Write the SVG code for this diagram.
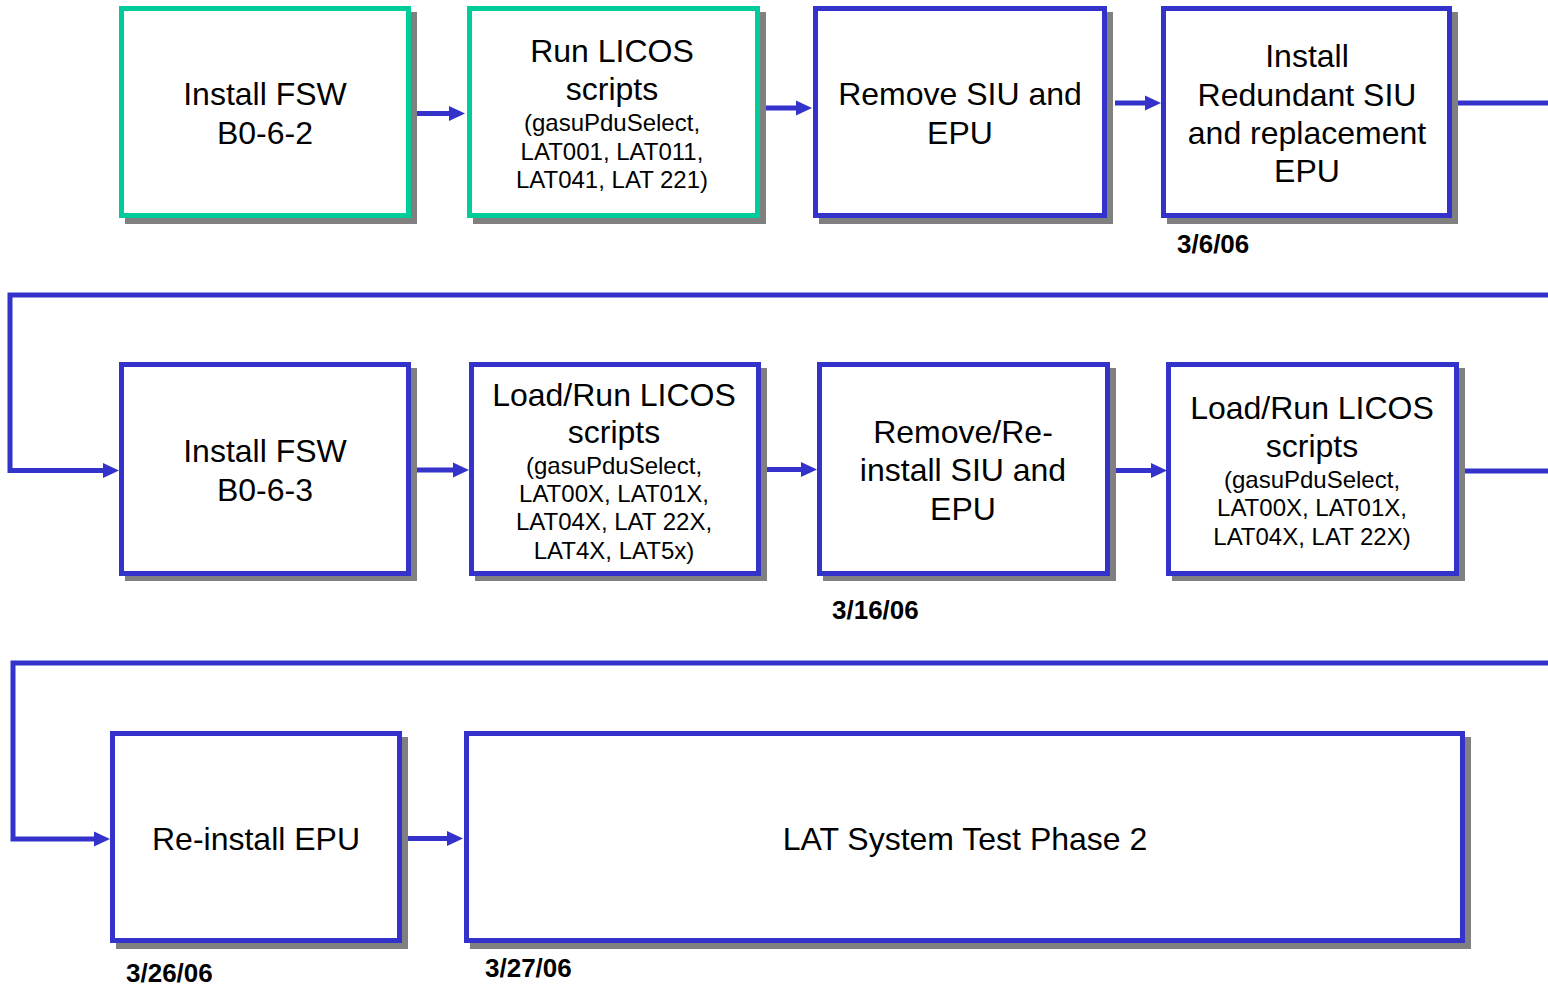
<svg xmlns="http://www.w3.org/2000/svg" width="1548" height="987" viewBox="0 0 1548 987">
<style>
.sh{fill:#808080;stroke:none}
.bx{fill:#ffffff;stroke-width:5}
.g{stroke:#00CC99}
.b{stroke:#3333CC}
.t{font-family:"Liberation Sans",Arial,sans-serif;font-size:32px;fill:#000;text-anchor:middle}
.s{font-family:"Liberation Sans",Arial,sans-serif;font-size:24px;fill:#000;text-anchor:middle}
.d{font-family:"Liberation Sans",Arial,sans-serif;font-size:26px;font-weight:bold;fill:#000}
.c{fill:none;stroke:#3333CC;stroke-width:5}
</style>
<defs>
<marker id="ah" markerUnits="userSpaceOnUse" viewBox="0 0 16 16" markerWidth="16" markerHeight="16" refX="4" refY="8" orient="auto">
<path d="M0,0.5 L16,8 L0,15.5 z" fill="#3333CC"/>
</marker>
</defs>
<rect width="1548" height="987" fill="#ffffff"/>
<g id="connectors">
<path class="c" d="M417,113.5 L453,113.5" marker-end="url(#ah)"/>
<path class="c" d="M765,108 L800,108" marker-end="url(#ah)"/>
<path class="c" d="M1115,103 L1149,103" marker-end="url(#ah)"/>
<path class="c" d="M1456,103 L1548,103"/>
<path class="c" d="M1548,295 L10,295 L10,470.5 L107,470.5" marker-end="url(#ah)"/>
<path class="c" d="M417,470 L457,470" marker-end="url(#ah)"/>
<path class="c" d="M765,469.5 L805,469.5" marker-end="url(#ah)"/>
<path class="c" d="M1114,470.5 L1155,470.5" marker-end="url(#ah)"/>
<path class="c" d="M1462,471 L1548,471"/>
<path class="c" d="M1548,663 L13,663 L13,839 L98,839" marker-end="url(#ah)"/>
<path class="c" d="M406,838.5 L451,838.5" marker-end="url(#ah)"/>
</g>
<g id="n1">
<rect class="sh" x="125" y="12" width="292" height="212"/>
<rect class="bx g" x="121.5" y="8.5" width="287" height="207"/>
<text class="t" x="265" y="105">Install FSW</text>
<text class="t" x="265" y="144">B0-6-2</text>
</g>
<g id="n2">
<rect class="sh" x="473" y="12" width="293" height="212"/>
<rect class="bx g" x="469.5" y="8.5" width="288" height="207"/>
<text class="t" x="612" y="62">Run LICOS</text>
<text class="t" x="612" y="100">scripts</text>
<text class="s" x="612" y="131">(gasuPduSelect,</text>
<text class="s" x="612" y="160">LAT001, LAT011,</text>
<text class="s" x="612" y="188">LAT041, LAT 221)</text>
</g>
<g id="n3">
<rect class="sh" x="819" y="12" width="294" height="212"/>
<rect class="bx b" x="815.5" y="8.5" width="289" height="207"/>
<text class="t" x="960" y="105">Remove SIU and</text>
<text class="t" x="960" y="144">EPU</text>
</g>
<g id="n4">
<rect class="sh" x="1167" y="12" width="291" height="212"/>
<rect class="bx b" x="1163.5" y="8.5" width="286" height="207"/>
<text class="t" x="1307" y="67">Install</text>
<text class="t" x="1307" y="106">Redundant SIU</text>
<text class="t" x="1307" y="144">and replacement</text>
<text class="t" x="1307" y="182">EPU</text>
</g>
<text class="d" x="1177" y="253">3/6/06</text>
<g id="n5">
<rect class="sh" x="125" y="368" width="292" height="213"/>
<rect class="bx b" x="121.5" y="364.5" width="287" height="209"/>
<text class="t" x="265" y="462">Install FSW</text>
<text class="t" x="265" y="501">B0-6-3</text>
</g>
<g id="n6">
<rect class="sh" x="475" y="368" width="292" height="213"/>
<rect class="bx b" x="471.5" y="364.5" width="287" height="209"/>
<text class="t" x="614" y="406">Load/Run LICOS</text>
<text class="t" x="614" y="443">scripts</text>
<text class="s" x="614" y="474">(gasuPduSelect,</text>
<text class="s" x="614" y="502">LAT00X, LAT01X,</text>
<text class="s" x="614" y="530">LAT04X, LAT 22X,</text>
<text class="s" x="614" y="559">LAT4X, LAT5x)</text>
</g>
<g id="n7">
<rect class="sh" x="823" y="368" width="293" height="213"/>
<rect class="bx b" x="819.5" y="364.5" width="288" height="209"/>
<text class="t" x="963" y="443">Remove/Re-</text>
<text class="t" x="963" y="481">install SIU and</text>
<text class="t" x="963" y="520">EPU</text>
</g>
<g id="n8">
<rect class="sh" x="1172" y="368" width="293" height="213"/>
<rect class="bx b" x="1168.5" y="364.5" width="288" height="209"/>
<text class="t" x="1312" y="419">Load/Run LICOS</text>
<text class="t" x="1312" y="457">scripts</text>
<text class="s" x="1312" y="488">(gasuPduSelect,</text>
<text class="s" x="1312" y="516">LAT00X, LAT01X,</text>
<text class="s" x="1312" y="545">LAT04X, LAT 22X)</text>
</g>
<text class="d" x="832" y="619">3/16/06</text>
<g id="n9">
<rect class="sh" x="116" y="737" width="292" height="212"/>
<rect class="bx b" x="112.5" y="733.5" width="287" height="207"/>
<text class="t" x="256" y="850">Re-install EPU</text>
</g>
<g id="n10">
<rect class="sh" x="470" y="737" width="1001" height="212"/>
<rect class="bx b" x="466.5" y="733.5" width="996" height="207"/>
<text class="t" x="965" y="850">LAT System Test Phase 2</text>
</g>
<text class="d" x="126" y="982">3/26/06</text>
<text class="d" x="485" y="977">3/27/06</text>
</svg>
